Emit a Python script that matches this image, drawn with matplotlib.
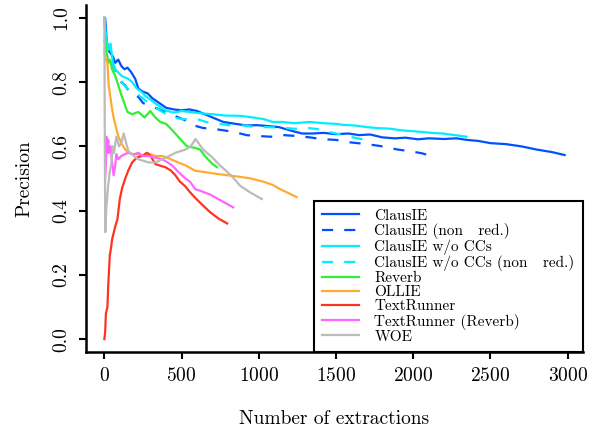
import matplotlib
matplotlib.use('Agg')
import matplotlib.pyplot as plt

plt.rcParams['font.family'] = 'serif'
plt.rcParams['font.serif'] = ['cmr10']
plt.rcParams['axes.formatter.use_mathtext'] = True

# ClausIE
clausie_x = [0, 5, 15, 25, 40, 55, 70, 90, 110, 130, 150, 175, 200, 220, 250, 280, 310, 340, 370, 400,
             450, 500, 550, 600, 650, 700, 770, 850, 920, 990, 1060, 1130, 1200, 1280, 1350, 1420, 1500,
             1580, 1650, 1720, 1800, 1880, 1950, 2030, 2100, 2200, 2280, 2350, 2420, 2500, 2600, 2700,
             2800, 2900, 2980]
clausie_y = [1.0, 1.0, 0.93, 0.90, 0.89, 0.88, 0.86, 0.87, 0.85, 0.84, 0.845, 0.83, 0.81, 0.78, 0.77,
             0.765, 0.75, 0.74, 0.73, 0.72, 0.715, 0.712, 0.715, 0.71, 0.70, 0.69, 0.676, 0.67, 0.665,
             0.666, 0.663, 0.66, 0.65, 0.64, 0.64, 0.642, 0.638, 0.64, 0.635, 0.637, 0.628, 0.625, 0.627,
             0.622, 0.625, 0.623, 0.625, 0.62, 0.617, 0.61, 0.607, 0.60, 0.59, 0.582, 0.573]

# ClausIE (non red.)
clausie_nr_x = [0, 5, 15, 30, 50, 70, 90, 110, 135, 160, 190, 220, 250, 290, 330, 380, 430, 480, 530,
                580, 640, 700, 770, 840, 920, 1000, 1080, 1160, 1250, 1330, 1400, 1500, 1600, 1700,
                1800, 1900, 1980, 2060, 2130]
clausie_nr_y = [1.0, 0.97, 0.92, 0.89, 0.86, 0.84, 0.82, 0.80, 0.79, 0.77, 0.76, 0.754, 0.735, 0.726,
                0.72, 0.71, 0.70, 0.69, 0.68, 0.665, 0.657, 0.655, 0.65, 0.645, 0.635, 0.632, 0.63,
                0.635, 0.632, 0.628, 0.623, 0.62, 0.612, 0.607, 0.60, 0.59, 0.585, 0.578, 0.568]

# ClausIE w/o CCs
nocc_x = [0, 5, 15, 25, 40, 55, 70, 90, 110, 130, 155, 180, 210, 240, 265, 300, 340, 395, 450, 500,
          555, 620, 700, 780, 880, 960, 1030, 1090, 1150, 1230, 1330, 1420, 1500, 1545, 1620, 1700,
          1765, 1850, 1920, 1975, 2050, 2120, 2190, 2270, 2345]
nocc_y = [1.0, 0.97, 0.93, 0.90, 0.92, 0.86, 0.84, 0.83, 0.82, 0.815, 0.81, 0.80, 0.78, 0.77, 0.757,
          0.745, 0.73, 0.712, 0.705, 0.71, 0.707, 0.703, 0.70, 0.696, 0.695, 0.69, 0.685, 0.676, 0.676,
          0.672, 0.676, 0.672, 0.67, 0.667, 0.665, 0.66, 0.657, 0.655, 0.65, 0.648, 0.645, 0.642, 0.64,
          0.635, 0.63]

# ClausIE w/o CCs (non red.)
nocc_nr_x = [0, 5, 15, 30, 50, 70, 100, 130, 150, 180, 220, 260, 300, 350, 400, 450, 500, 535, 600,
             665, 740, 820, 900, 980, 1060, 1140, 1200, 1265, 1320, 1375, 1430, 1480, 1540, 1590,
             1650, 1720]
nocc_nr_y = [1.0, 0.96, 0.91, 0.88, 0.85, 0.83, 0.81, 0.79, 0.78, 0.77, 0.76, 0.745, 0.73, 0.715,
             0.70, 0.69, 0.685, 0.685, 0.685, 0.675, 0.67, 0.665, 0.665, 0.66, 0.66, 0.658, 0.656,
             0.654, 0.657, 0.654, 0.648, 0.642, 0.636, 0.63, 0.624, 0.617]

# Reverb
reverb_x = [0, 5, 10, 20, 25, 35, 50, 70, 90, 110, 135, 150, 180, 220, 260, 297, 330, 362, 400, 440,
            491, 535, 580, 620, 660, 700, 730]
reverb_y = [0.93, 0.93, 0.90, 0.88, 0.86, 0.87, 0.84, 0.82, 0.79, 0.76, 0.726, 0.707, 0.70, 0.707,
            0.69, 0.71, 0.69, 0.676, 0.67, 0.65, 0.623, 0.60, 0.596, 0.59, 0.565, 0.545, 0.535]

# OLLIE
ollie_x = [0, 5, 10, 20, 28, 40, 50, 60, 75, 90, 110, 135, 160, 180, 220, 250, 285, 330, 375, 420,
           478, 530, 588, 650, 730, 800, 880, 950, 1030, 1090, 1137, 1190, 1245]
ollie_y = [0.9, 0.88, 0.87, 0.86, 0.79, 0.75, 0.716, 0.69, 0.66, 0.632, 0.61, 0.59, 0.58, 0.576,
           0.575, 0.57, 0.578, 0.57, 0.57, 0.562, 0.55, 0.54, 0.524, 0.52, 0.514, 0.51, 0.505, 0.50,
           0.49, 0.48, 0.467, 0.455, 0.442]

# TextRunner
tr_x = [0, 5, 10, 20, 25, 35, 45, 50, 60, 70, 85, 100, 115, 135, 155, 180, 210, 245, 275, 300, 330,
        360, 395, 430, 460, 490, 525, 555, 588, 630, 685, 740, 795]
tr_y = [0.0, 0.02, 0.08, 0.10, 0.166, 0.26, 0.29, 0.31, 0.33, 0.35, 0.374, 0.436, 0.47, 0.50, 0.525,
        0.55, 0.565, 0.57, 0.58, 0.57, 0.545, 0.54, 0.535, 0.525, 0.51, 0.49, 0.475, 0.457, 0.44,
        0.42, 0.395, 0.375, 0.36]

# TextRunner (Reverb)
trr_x = [5, 10, 13, 18, 25, 30, 40, 50, 60, 70, 78, 90, 110, 130, 155, 190, 220, 250, 285, 330, 375,
         410, 440, 480, 525, 555, 588, 630, 685, 760, 835]
trr_y = [0.5, 0.55, 0.63, 0.58, 0.62, 0.58, 0.60, 0.55, 0.51, 0.54, 0.576, 0.56, 0.57, 0.575, 0.58,
         0.575, 0.58, 0.57, 0.57, 0.565, 0.56, 0.55, 0.54, 0.52, 0.50, 0.49, 0.467, 0.46, 0.45,
         0.43, 0.41]

# WOE
woe_x = [0, 3, 6, 13, 25, 35, 45, 55, 62, 78, 95, 110, 125, 155, 190, 220, 285, 330, 375, 420, 460,
         525, 560, 590, 640, 700, 750, 820, 880, 950, 1020]
woe_y = [1.0, 0.6, 0.333, 0.41, 0.48, 0.52, 0.545, 0.60, 0.58, 0.63, 0.60, 0.61, 0.64, 0.585, 0.57,
         0.56, 0.55, 0.55, 0.56, 0.57, 0.58, 0.59, 0.60, 0.623, 0.59, 0.565, 0.54, 0.51, 0.477, 0.455,
         0.436]

series = [
    ('ClausIE', clausie_x, clausie_y, '#0050ff', '-'),
    ('ClausIE (non   red.)', clausie_nr_x, clausie_nr_y, '#0050ff', (0, (5, 5))),
    ('ClausIE w/o CCs', nocc_x, nocc_y, '#00eeff', '-'),
    ('ClausIE w/o CCs (non   red.)', nocc_nr_x, nocc_nr_y, '#00eeff', (0, (5, 5))),
    ('Reverb', reverb_x, reverb_y, '#33ee33', '-'),
    ('OLLIE', ollie_x, ollie_y, '#ffaa33', '-'),
    ('TextRunner', tr_x, tr_y, '#ff3322', '-'),
    ('TextRunner (Reverb)', trr_x, trr_y, '#ff66ff', '-'),
    ('WOE', woe_x, woe_y, '#bbbbbb', '-'),
]

fig = plt.figure(figsize=(6, 4.3), dpi=100)
ax = fig.add_axes([0.1433, 0.1814, 0.8283, 0.807])

for name, xs, ys, col, ls in series:
    ax.plot(xs, ys, color=col, linestyle=ls, linewidth=1.6, label=name)

ax.set_xlim(-119, 3099)
ax.set_ylim(-0.04, 1.04)
ax.set_xticks([0, 500, 1000, 1500, 2000, 2500, 3000])
ax.set_yticks([0.0, 0.2, 0.4, 0.6, 0.8, 1.0])
ax.set_yticklabels(['0.0', '0.2', '0.4', '0.6', '0.8', '1.0'], rotation=90, va='center')
ax.tick_params(direction='out', length=5, width=1.5, labelsize=14, pad=6)

for s in ['top', 'right']:
    ax.spines[s].set_visible(False)
for s in ['left', 'bottom']:
    ax.spines[s].set_linewidth(1.8)

ax.set_xlabel('Number of extractions', fontsize=14, labelpad=18)
ax.set_ylabel('Precision', fontsize=14, labelpad=14)

leg = ax.legend(loc='lower right', bbox_to_anchor=(1.0, 0.0), borderaxespad=0, fontsize=11,
                frameon=True, fancybox=False, edgecolor='black', framealpha=1,
                labelspacing=0.02, handlelength=2.4, handletextpad=1.0, borderpad=0.55)
leg.get_frame().set_linewidth(1.5)

fig.savefig('out.png', dpi=100)
